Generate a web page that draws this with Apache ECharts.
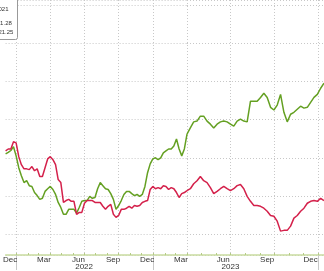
<!DOCTYPE html>
<html><head><meta charset="utf-8">
<script src="https://cdn.jsdelivr.net/npm/echarts@6/dist/echarts.min.js"></script>
<style>html,body{margin:0;padding:0;background:#fff;overflow:hidden}#c{width:324px;height:271px}</style>
</head><body><div id="c"></div>
<script>
// ---- text / labels ----
const monthNames = ['Jan','Feb','Mar','Apr','May','Jun','Jul','Aug','Sep','Oct','Nov','Dec'];
const labelMonths = ['Mar','Jun','Sep','Dec'];
const yearLabels = ['2022','2023'];
const legendLines = ['021','1.28','21.25'];

// ---- category ranges (daily), samples are weekly ----
const startA = '2021-12-04', endA = '2023-04-01';
const startB = '2023-04-01', endB = '2024-01-13';
const sampleStep = 7;

// ---- series values (weekly samples) ----
const greenA = [101.0,101.4,101.9,102.9,100.5,97.4,95.3,93.5,94.0,92.7,
  92.5,90.9,90.1,89.1,89.4,91.2,91.9,92.5,91.7,90.4,
  88.3,87.0,85.2,85.2,86.5,86.5,86.5,85.5,87.0,88.6,
  88.8,88.8,89.9,89.4,89.6,91.9,93.5,92.7,91.9,91.7,
  90.6,89.1,86.5,87.5,88.8,90.4,91.2,91.2,90.6,90.1,
  90.4,89.9,90.4,92.5,96.1,98.4,99.7,100.0,99.5,100.0,
  101.3,101.8,102.3,102.3,103.1,104.9,102.3,100.5,102.3,106.2];
const redA = [101.8,102.3,102.3,104.2,103.9,100.3,98.2,97.1,97.1,96.9,
  97.7,96.6,97.1,95.1,95.1,97.4,99.7,100.3,99.5,98.2,
  94.3,93.5,88.3,88.8,89.1,88.6,88.6,85.2,85.7,85.7,
  88.1,88.8,88.8,88.8,88.3,88.3,88.3,87.3,86.5,87.3,
  87.8,85.2,84.4,84.9,86.5,86.5,86.8,87.3,86.8,87.5,
  87.3,87.5,88.3,88.6,88.8,91.7,92.5,91.9,92.2,91.9,
  92.7,92.5,91.7,92.2,91.9,90.9,89.6,90.6,90.9,91.4];
const greenB = [106.2,107.8,109.4,109.6,110.9,110.9,109.6,108.8,107.8,108.8,
  109.4,109.6,109.4,108.8,108.3,109.6,110.1,109.6,109.4,114.8,
  114.8,114.8,115.8,116.9,115.8,113.2,112.5,113.8,116.6,111.9,
  109.4,111.4,111.9,112.7,113.5,113.0,113.2,114.5,115.8,116.6,
  118.2,119.5];
const redB = [91.4,91.9,93.2,94.0,95.1,94.0,93.5,92.2,90.6,91.2,
  91.9,92.5,91.9,91.4,91.9,92.7,93.0,91.9,89.9,88.6,
  87.5,87.5,87.3,86.8,86.0,84.9,84.7,83.4,80.8,81.0,
  81.0,82.1,84.2,84.9,86.0,86.8,88.1,88.6,88.8,88.6,
  89.4,88.8];

const GREEN = '#64a022', RED = '#d4214b';

function dayList(s, e) {
  const out = [];
  let t = Date.parse(s + 'T00:00:00Z');
  const te = Date.parse(e + 'T00:00:00Z');
  while (t <= te) { out.push(new Date(t).toISOString().slice(0, 10)); t += 86400000; }
  return out;
}
const catsA = dayList(startA, endA);
const catsB = dayList(startB, endB);

const mon = v => monthNames[parseInt(v.slice(5, 7), 10) - 1];
const isLabelDay = (i, v) => v.slice(8) === '16' && labelMonths.indexOf(mon(v)) >= 0;
const isQuarter = (i, v) => v.slice(8) === '01' && ['01','04','07','10'].indexOf(v.slice(5, 7)) >= 0;
const isMonth = (i, v) => v.slice(8) === '01';
const isYearStart = (i, v) => v.slice(5) === '01-01';
const isMidYear = (i, v) => v.slice(5) === '07-01' && yearLabels.indexOf(v.slice(0, 4)) >= 0;

const FONT = 'Arial, "Liberation Sans", sans-serif';

function monthAxis(gridIndex, cats) {
  return {
    type: 'category', gridIndex, data: cats, boundaryGap: false, position: 'bottom',
    axisLine: { show: true, lineStyle: { color: '#c9dca0', width: 1.5 } },
    axisTick: { show: true, interval: isMonth, length: 2, inside: true, lineStyle: { color: '#b5cc85' } },
    axisLabel: { show: true, interval: isLabelDay, formatter: v => mon(v), margin: 1,
      fontSize: 8, color: '#333', fontFamily: FONT },
    splitLine: { show: true, interval: isQuarter, lineStyle: { color: '#c8c8c8', type: [1, 2], width: 1 } }
  };
}
function yearAxis(gridIndex, cats) {
  return {
    type: 'category', gridIndex, data: cats, boundaryGap: false, position: 'bottom',
    axisLine: { show: false },
    axisTick: { show: true, interval: isYearStart, length: 15, inside: false, lineStyle: { color: '#c8c8c8' } },
    axisLabel: { show: true, interval: isMidYear, formatter: v => v.slice(0, 4), margin: 8,
      fontSize: 8, color: '#333', fontFamily: FONT },
    splitLine: { show: false }
  };
}
function valAxis(gridIndex) {
  return {
    type: 'value', gridIndex, min: 74.55, max: 141.3, position: 'right',
    axisLine: { show: false }, axisTick: { show: false }, axisLabel: { show: false },
    splitLine: { show: true, lineStyle: { color: '#c8c8c8', type: [1, 2], width: 1 } }
  };
}
const toPairs = arr => arr.map((v, i) => [i * sampleStep, v]);
function line(name, xi, yi, data, color) {
  return { name, type: 'line', xAxisIndex: xi, yAxisIndex: yi, data: toPairs(data),
    showSymbol: false, symbol: 'none', lineStyle: { color, width: 1.5 }, itemStyle: { color }, z: color === GREEN ? 3 : 4 };
}

const chart = echarts.init(document.getElementById('c'), null, { renderer: 'canvas' });
chart.setOption({
  animation: false,
  backgroundColor: '#fff',
  grid: [
    { left: 0, top: 0, width: 187, bottom: 14 },
    { left: 187, top: 0, width: 137, bottom: 14 }
  ],
  xAxis: [monthAxis(0, catsA), yearAxis(0, catsA), monthAxis(1, catsB), yearAxis(1, catsB)],
  yAxis: [valAxis(0), valAxis(1)],
  series: [
    line('Green', 0, 0, greenA, GREEN), line('Red', 0, 0, redA, RED),
    line('Green', 2, 1, greenB, GREEN), line('Red', 2, 1, redB, RED)
  ],
  graphic: [
    { type: 'rect', shape: { x: -40, y: -4, width: 57.5, height: 43.5, r: 2 },
      style: { fill: '#fff', stroke: '#999', lineWidth: 1 }, z: 10 },
    { type: 'text', x: 8.5, y: 9.5, style: { text: legendLines[0], align: 'right', verticalAlign: 'middle', fontSize: 6, fill: '#333', fontFamily: FONT }, z: 11 },
    { type: 'text', x: 11.8, y: 23.5, style: { text: legendLines[1], align: 'right', verticalAlign: 'middle', fontSize: 6, fill: '#333', fontFamily: FONT }, z: 11 },
    { type: 'text', x: 13.4, y: 32.5, style: { text: legendLines[2], align: 'right', verticalAlign: 'middle', fontSize: 6, fill: '#333', fontFamily: FONT }, z: 11 }
  ]
});
</script></body></html>
